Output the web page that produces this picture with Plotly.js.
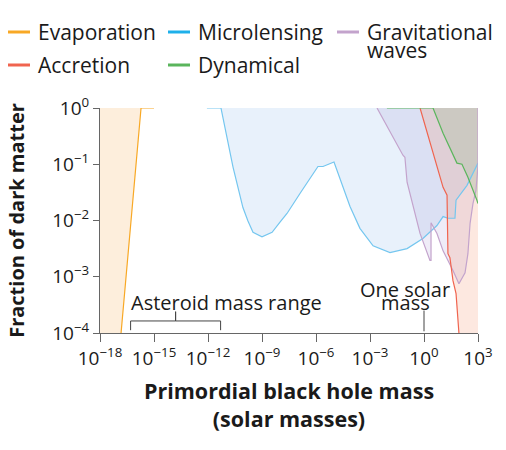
<!DOCTYPE html>
<html>
<head>
<meta charset="utf-8">
<script src="https://cdn.plot.ly/plotly-3.0.1.min.js"></script>
<style>
  html, body { margin: 0; padding: 0; background: #fff; }
  #chart { width: 506px; height: 450px; }
</style>
</head>
<body>
<div id="chart"></div>
<script>
// all masses and fractions are stored as log10 exponents
var evapLogM = [-16.83, -15.72, -15.0];
var evapLogF = [-4, 0, 0];

var lensLogM = [-12.06, -11.28, -10.61, -10.06, -9.78, -9.5, -9.0, -8.44, -8.0, -7.61, -6.89, -5.89, -5.61, -5.0,
                -4.11, -3.56, -2.83, -1.89, -0.94, -0.06, 0.72, 1.06, 1.33, 1.72, 1.78, 2.39, 3.0];
var lensLogF = [0, 0, -1.05, -1.77, -2.01, -2.21, -2.29, -2.21, -2.03, -1.875, -1.52, -1.04, -1.04, -0.96,
                -1.75, -2.14, -2.45, -2.57, -2.5, -2.32, -2.09, -1.93, -1.96, -1.96, -1.64, -1.375, -0.98];

var gwLogM = [-2.61, -1.17, -1.06, -0.94, -0.22, 0.33, 0.39, 0.39, 0.72, 1.06, 1.61, 1.94, 2.28, 2.44, 2.56, 2.72, 2.89, 3.0, 3.0];
var gwLogF = [0, -0.84, -0.875, -1.32, -2.23, -2.71, -2.71, -2.04, -2.23, -2.54, -2.89, -3.125, -2.93, -2.59, -2.05, -1.7, -1.46, -1.02, 0];

var accLogM = [-0.22, 1.06, 1.28, 1.33, 1.44, 1.61, 1.78, 1.94];
var accLogF = [0, -1.41, -1.55, -2.59, -2.66, -3.07, -3.3, -4];

var dynLogM = [-2.06, 0.5, 1.06, 1.56, 1.83, 2.11, 2.44, 2.94, 3.0];
var dynLogF = [0, 0, -0.45, -0.8, -0.98, -1.0, -1.23, -1.64, -1.7];

var asteroidLogRange = [-16.3, -11.3];
var solarLogM = 0;

var xTickExp = [-18, -15, -12, -9, -6, -3, 0, 3];
var yTickExp = [-4, -3, -2, -1, 0];

var X_LO = -18, X_HI = 3, Y_LO = -4, Y_HI = 0;

const FONT = 'Open Sans, Lato, sans-serif';

function pw(a) { return a.map(function (v) { return Math.pow(10, v); }); }
function sup(e) { return '10<sup>' + String(e).replace('-', '\u2212') + '</sup>'; }

// region polygon = boundary + extra corners (log units)
function poly(lx, ly, corners) {
    var xs = lx.slice(), ys = ly.slice();
    corners.forEach(function (c) { xs.push(c[0]); ys.push(c[1]); });
    return { x: pw(xs), y: pw(ys) };
}

function fillTrace(p, color) {
    return {
        type: 'scatter', mode: 'lines', x: p.x, y: p.y,
        fill: 'toself', fillcolor: color, line: { width: 0 },
        hoverinfo: 'skip', showlegend: false
    };
}

function lineTrace(lx, ly, color, name) {
    return {
        type: 'scatter', mode: 'lines', name: name,
        x: pw(lx), y: pw(ly),
        line: { color: color, width: 1.2 },
        showlegend: false
    };
}

var colors = {
    evap: '#f8a825',
    lens: '#74c6ef',
    gw: '#c3a3cc',
    acc: '#f0644f',
    dyn: '#5ab55c'
};

var mid = (asteroidLogRange[0] + asteroidLogRange[1]) / 2;
var bracketX = [asteroidLogRange[0], asteroidLogRange[0], mid, mid, mid, asteroidLogRange[1], asteroidLogRange[1]];
var bracketY = [-3.95, -3.786, -3.786, -3.62, -3.786, -3.786, -3.95];

var data = [
    fillTrace(poly(evapLogM, evapLogF, [[X_LO, Y_HI], [X_LO, Y_LO]]), 'rgba(250,200,140,0.3)'),
    fillTrace(poly(lensLogM, lensLogF, [[X_HI, Y_HI]]), 'rgba(120,170,230,0.17)'),
    fillTrace(poly(gwLogM, gwLogF, []), 'rgba(150,130,200,0.15)'),
    fillTrace(poly(accLogM, accLogF, [[X_HI, Y_LO], [X_HI, Y_HI]]), 'rgba(245,140,100,0.2)'),
    fillTrace(poly(dynLogM, dynLogF, [[X_HI, Y_HI]]), 'rgba(160,190,150,0.3)'),
    lineTrace(lensLogM, lensLogF, colors.lens, 'Microlensing'),
    lineTrace(gwLogM, gwLogF, colors.gw, 'Gravitational waves'),
    lineTrace(accLogM, accLogF, colors.acc, 'Accretion'),
    lineTrace(dynLogM, dynLogF, colors.dyn, 'Dynamical'),
    lineTrace(evapLogM, evapLogF, colors.evap, 'Evaporation'),
    {
        type: 'scatter', mode: 'lines', x: pw(bracketX), y: pw(bracketY),
        line: { color: '#444', width: 1 }, hoverinfo: 'skip', showlegend: false
    },
    {
        type: 'scatter', mode: 'lines', x: pw([solarLogM, solarLogM]), y: pw([-3.6, -3.97]),
        line: { color: '#444', width: 1 }, hoverinfo: 'skip', showlegend: false
    }
];

// legend drawn by hand, pixel -> paper helpers
var L = 100, R = 478, T = 108, B = 333;
function px(x) { return (x - L) / (R - L); }
function py(y) { return (B - y) / (B - T); }

var legendItems = [
    { name: 'Evaporation', color: colors.evap, x: 8, y: 32 },
    { name: 'Microlensing', color: '#1eb0ea', x: 168, y: 32 },
    { name: 'Gravitational', color: colors.gw, x: 337, y: 32 },
    { name: 'Accretion', color: colors.acc, x: 8, y: 65 },
    { name: 'Dynamical', color: colors.dyn, x: 168, y: 65 }
];

var shapes = [];
var annotations = [];
legendItems.forEach(function (it) {
    shapes.push({
        type: 'line', xref: 'paper', yref: 'paper',
        x0: px(it.x), x1: px(it.x + 22), y0: py(it.y), y1: py(it.y),
        line: { color: it.color, width: 3 }
    });
    annotations.push({
        xref: 'paper', yref: 'paper', x: px(it.x + 28), y: py(it.y),
        xanchor: 'left', yanchor: 'middle', showarrow: false,
        text: it.name, font: { family: FONT, size: 21, color: '#1a1a1a' }
    });
});
annotations.push({
    xref: 'paper', yref: 'paper', x: px(365), y: py(50),
    xanchor: 'left', yanchor: 'middle', showarrow: false,
    text: 'waves', font: { family: FONT, size: 21, color: '#1a1a1a' }
});

annotations.push(
    { xref: 'x', yref: 'y', x: asteroidLogRange[0] - 0.1, y: -3.45, xanchor: 'left', showarrow: false,
      text: 'Asteroid mass range', font: { family: FONT, size: 20, color: '#1a1a1a' } },
    { xref: 'x', yref: 'y', x: -1.05, y: -3.23, showarrow: false, text: 'One solar',
      font: { family: FONT, size: 20, color: '#1a1a1a' } },
    { xref: 'x', yref: 'y', x: -1.05, y: -3.46, showarrow: false, text: 'mass',
      font: { family: FONT, size: 20, color: '#1a1a1a' } }
);

var layout = {
    width: 506,
    height: 450,
    margin: { l: L, r: 506 - R, t: T, b: 450 - B, pad: 0 },
    paper_bgcolor: '#ffffff',
    plot_bgcolor: '#ffffff',
    font: { family: FONT, size: 19, color: '#1a1a1a' },
    showlegend: false,
    xaxis: {
        type: 'log',
        range: [X_LO, X_HI],
        tickvals: pw(xTickExp),
        ticktext: xTickExp.map(sup),
        ticks: 'outside', ticklen: 8, tickcolor: '#666', tickwidth: 1,
        showline: true, linecolor: '#666', linewidth: 1,
        showgrid: false, zeroline: false,
        tickfont: { family: FONT, size: 19, color: '#1a1a1a' },
        title: {
            text: 'Primordial black hole mass<br>(solar masses)',
            font: { family: FONT, size: 21.5, color: '#1a1a1a', weight: 'bold' },
            standoff: 14
        }
    },
    yaxis: {
        type: 'log',
        range: [Y_LO, Y_HI],
        tickvals: pw(yTickExp),
        ticktext: yTickExp.map(sup),
        ticks: 'outside', ticklen: 6, tickcolor: '#666', tickwidth: 1,
        showline: true, linecolor: '#666', linewidth: 1,
        showgrid: false, zeroline: false,
        tickfont: { family: FONT, size: 19, color: '#1a1a1a' },
        title: {
            text: 'Fraction of dark matter',
            font: { family: FONT, size: 20, color: '#1a1a1a', weight: 'bold' },
            standoff: 22
        }
    },
    shapes: shapes,
    annotations: annotations
};

Plotly.newPlot('chart', data, layout, { displayModeBar: false, staticPlot: true });
</script>
</body>
</html>
